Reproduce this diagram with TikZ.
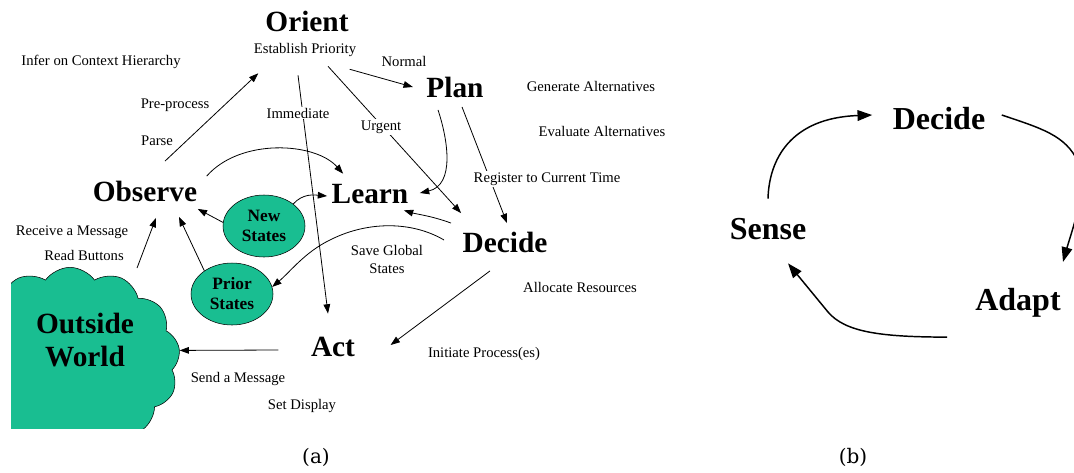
\documentclass[tikz,border=0pt]{standalone}
\usepackage{fontspec}
\setmainfont{Liberation Serif}
\newfontfamily\capfont{DejaVu Serif}
\usetikzlibrary{positioning, arrows.meta, calc, shapes.geometric, shapes.symbols}

\definecolor{statefill}{RGB}{25,190,145}

\tikzset{
  stage/.style={font=\fontsize{22}{25}\selectfont\bfseries, inner sep=1pt},
  note/.style={font=\fontsize{11}{13.5}\selectfont, inner sep=1pt, align=center},
  statebubble/.style={ellipse, draw, fill=statefill, minimum width=61.5pt, minimum height=46.5pt,
    inner sep=0pt, align=center, font=\fontsize{13}{15}\selectfont\bfseries},
  flow/.style={-{Triangle[length=7pt,width=5pt]}, line width=0.6pt},
  loopstage/.style={font=\fontsize{24}{26}\selectfont\bfseries, inner sep=1pt},
  loopflow/.style={-{Triangle[length=11pt,width=8pt]}, line width=1.1pt},
  panel/.style={font=\capfont\fontsize{15}{17}\selectfont, inner sep=0pt}
}

\begin{document}
\begin{tikzpicture}[x=0.75pt, y=-0.75pt]
  \useasboundingbox (0,0) rectangle (1074,472);

  % Outside world cloud
  \begin{scope}
    \clip (11,0) rectangle (1074,428);
    \node[cloud, cloud puffs=13, cloud puff arc=110, cloud ignores aspect, draw, fill=statefill,
      minimum width=165pt, minimum height=139pt] (outside) at (70,360) {};
  \end{scope}
  \node[stage, align=center] (outsidetxt) at (85,340) {Outside\\World};

  % Stages
  \node[stage] (orient) at (307,21) {Orient};
  \node[note] (establish) at (305,50) {Establish Priority};
  \node[stage] (plan) at (455,87) {Plan};
  \node[stage] (observe) at (145,191) {Observe};
  \node[stage] (learn) at (370,194) {Learn};
  \node[stage] (decide) at (505,242) {Decide};
  \node[stage] (act) at (333,347) {Act};

  % State bubbles
  \node[statebubble] (newstates) at (264,226) {New\\States};
  \node[statebubble] (priorstates) at (232,294) {Prior\\States};

  % Side notes
  \node[note] (infer) at (101,62) {Infer on Context Hierarchy};
  \node[note] (normal) at (404,61) {Normal};
  \node[note] (generate) at (591,86) {Generate Alternatives};
  \node[note] (preprocess) at (175,105) {Pre-process};
  \node[note] (evaluate) at (602,131) {Evaluate Alternatives};
  \node[note] (parse) at (157,141) {Parse};
  \node[note] (receive) at (72,232) {Receive a Message};
  \node[note] (read) at (84,255) {Read Buttons};
  \node[note] (save) at (387,259) {Save Global\\States};
  \node[note] (allocate) at (580,287) {Allocate Resources};
  \node[note] (initiate) at (484,354) {Initiate Process(es)};
  \node[note] (send) at (238,379) {Send a Message};
  \node[note] (setdisplay) at (302,406) {Set Display};

  % Connectors (a)
  \draw[flow] ($(observe.north)+(20,-18)$) -- ($(establish.south west)+(6,15)$);
  \draw[flow] ($(establish.south)+(-7,17)$) -- ($(act.north)+(-5,-22)$);
  \draw[flow] ($(establish.south east)+(-8,11)$) -- ($(plan.west)+(-12,0)$);
  \draw[flow] ($(establish.south)+(23,8)$) -- ($(decide.north west)+(0,-17)$);
  \draw[flow] ($(plan.south)+(-17,11)$) .. controls (448,140) and (455,185) .. ($(learn.east)+(10,-1)$);
  \draw[flow] ($(plan.south)+(7,8)$) -- ($(decide.north)+(2,-7)$);
  \draw[flow] ($(decide.north west)+(-10,-7)$) .. controls (432,216) and (416,214) .. ($(learn.south east)+(-6,5)$);
  \draw[flow] ($(observe.north east)+(8,-3)$) .. controls (240,138) and (315,142) .. ($(learn.north west)+(13,-9)$);
  \draw[flow] (newstates.37) .. controls (303,193) and (315,195) .. ($(learn.west)+(-3,2)$);
  \draw[flow] (newstates.175) -- ($(observe.south east)+(-1,6)$);
  \draw[flow] (priorstates.140) -- ($(observe.south)+(34,14)$);
  \draw[flow] ($(outside.north)+(67,1)$) -- ($(observe.south)+(11,15)$);
  \draw[flow] ($(decide.west)+(-17,-2)$) .. controls (410,220) and (365,222) .. (330,240)
    .. controls (305,252) and (290,272) .. (priorstates.10);
  \draw[flow] ($(decide.south)+(-15,17)$) -- ($(act.east)+(34,-2)$);
  \draw[flow] ($(act.west)+(-31,3)$) -- (outside.5);

  % Labels sitting on connectors
  \node[note, fill=white] (immediate) at (298,113) {Immediate};
  \node[note, fill=white] (urgent) at (381,127) {Urgent};
  \node[note, fill=white] (register) at (547,179) {Register to Current Time};

  % Panel (b)
  \node[loopstage] (bdecide) at (939,119) {Decide};
  \node[loopstage] (bsense) at (768,229) {Sense};
  \node[loopstage] (badapt) at (1018,303) {Adapt};

  \draw[loopflow] ($(bsense.north)+(0,-18)$) .. controls (769,160) and (790,118) .. ($(bdecide.west)+(-19,-4)$);
  \draw[loopflow] ($(bdecide.east)+(15,-4)$) .. controls (1040,128) and (1066,135) .. (1078,162)
    .. controls (1088,188) and (1072,230) .. ($(badapt.north)+(45,-25)$);
  \draw[loopflow] ($(badapt.south)+(-71,18)$) .. controls (880,337) and (845,332) .. (828,312)
    -- ($(bsense.south)+(20,22)$);

  % Panel captions
  \node[panel] (capa) at (316,457) {(a)};
  \node[panel] (capb) at (853,457) {(b)};
\end{tikzpicture}
\end{document}
